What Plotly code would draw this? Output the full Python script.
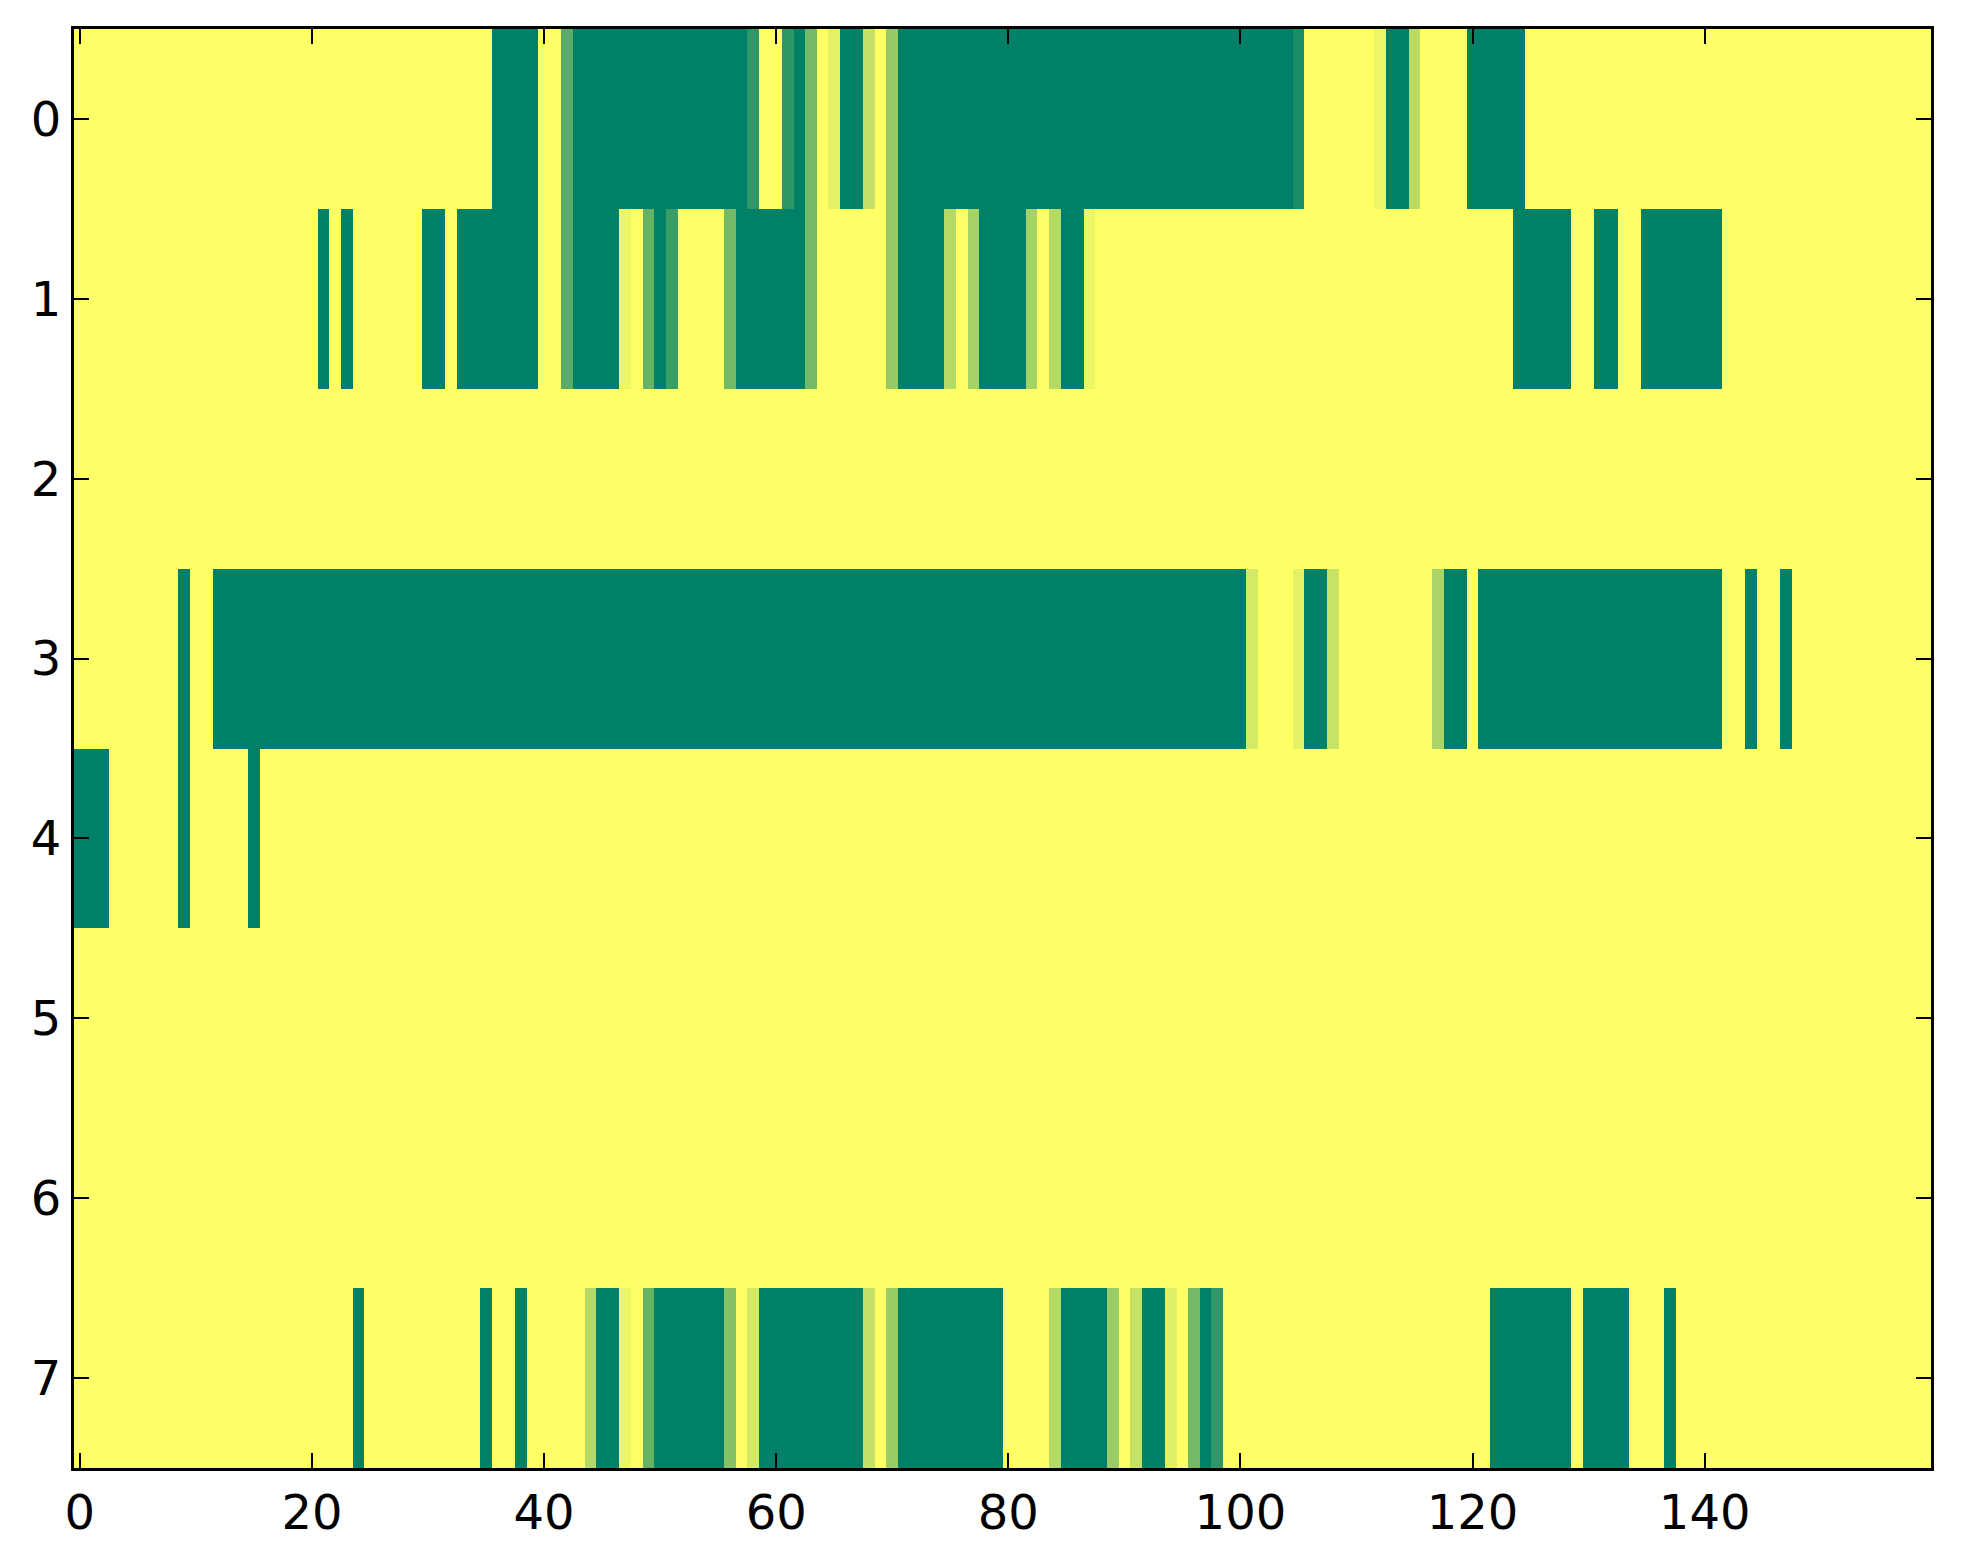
import plotly.graph_objects as go

# one list per image row, 160 columns each (0 = yellow, 1 = green)
row0 = [
    0, 0, 0, 0, 0, 0, 0, 0, 0, 0, 0, 0, 0, 0, 0, 0, 0, 0, 0, 0,
    0, 0, 0, 0, 0, 0, 0, 0, 0, 0, 0, 0, 0, 0, 0, 0, 1, 1, 1, 1,
    0, 0, 0.65, 1, 1, 1, 1, 1, 1, 1, 1, 1, 1, 1, 1, 1, 1, 1, 0.82, 0,
    0, 0.82, 1, 0.55, 0, 0.1, 1, 1, 0.23, 0, 0.42, 1, 1, 1, 1, 1, 1, 1, 1, 1,
    1, 1, 1, 1, 1, 1, 1, 1, 1, 1, 1, 1, 1, 1, 1, 1, 1, 1, 1, 1,
    1, 1, 1, 1, 1, 0.9, 0, 0, 0, 0, 0, 0, 0.07, 1, 1, 0.28, 0, 0, 0, 0,
    1, 1, 1, 1, 1, 0, 0, 0, 0, 0, 0, 0, 0, 0, 0, 0, 0, 0, 0, 0,
    0, 0, 0, 0, 0, 0, 0, 0, 0, 0, 0, 0, 0, 0, 0, 0, 0, 0, 0, 0,
]
row1 = [
    0, 0, 0, 0, 0, 0, 0, 0, 0, 0, 0, 0, 0, 0, 0, 0, 0, 0, 0, 0,
    0, 1, 0, 1, 0, 0, 0, 0, 0, 0, 1, 1, 0, 1, 1, 1, 1, 1, 1, 1,
    0, 0, 0.65, 1, 1, 1, 1, 0.07, 0, 0.6, 1, 0.77, 0, 0, 0, 0, 0.55, 1, 1, 1,
    1, 1, 1, 0.55, 0, 0, 0, 0, 0, 0, 0.42, 1, 1, 1, 1, 0.3, 0, 0.35, 1, 1,
    1, 1, 0.35, 0, 0.3, 1, 1, 0.07, 0, 0, 0, 0, 0, 0, 0, 0, 0, 0, 0, 0,
    0, 0, 0, 0, 0, 0, 0, 0, 0, 0, 0, 0, 0, 0, 0, 0, 0, 0, 0, 0,
    0, 0, 0, 0, 1, 1, 1, 1, 1, 0, 0, 1, 1, 0, 0, 1, 1, 1, 1, 1,
    1, 1, 0, 0, 0, 0, 0, 0, 0, 0, 0, 0, 0, 0, 0, 0, 0, 0, 0, 0,
]
row2 = [
    0, 0, 0, 0, 0, 0, 0, 0, 0, 0, 0, 0, 0, 0, 0, 0, 0, 0, 0, 0,
    0, 0, 0, 0, 0, 0, 0, 0, 0, 0, 0, 0, 0, 0, 0, 0, 0, 0, 0, 0,
    0, 0, 0, 0, 0, 0, 0, 0, 0, 0, 0, 0, 0, 0, 0, 0, 0, 0, 0, 0,
    0, 0, 0, 0, 0, 0, 0, 0, 0, 0, 0, 0, 0, 0, 0, 0, 0, 0, 0, 0,
    0, 0, 0, 0, 0, 0, 0, 0, 0, 0, 0, 0, 0, 0, 0, 0, 0, 0, 0, 0,
    0, 0, 0, 0, 0, 0, 0, 0, 0, 0, 0, 0, 0, 0, 0, 0, 0, 0, 0, 0,
    0, 0, 0, 0, 0, 0, 0, 0, 0, 0, 0, 0, 0, 0, 0, 0, 0, 0, 0, 0,
    0, 0, 0, 0, 0, 0, 0, 0, 0, 0, 0, 0, 0, 0, 0, 0, 0, 0, 0, 0,
]
row3 = [
    0, 0, 0, 0, 0, 0, 0, 0, 0, 1, 0, 0, 1, 1, 1, 1, 1, 1, 1, 1,
    1, 1, 1, 1, 1, 1, 1, 1, 1, 1, 1, 1, 1, 1, 1, 1, 1, 1, 1, 1,
    1, 1, 1, 1, 1, 1, 1, 1, 1, 1, 1, 1, 1, 1, 1, 1, 1, 1, 1, 1,
    1, 1, 1, 1, 1, 1, 1, 1, 1, 1, 1, 1, 1, 1, 1, 1, 1, 1, 1, 1,
    1, 1, 1, 1, 1, 1, 1, 1, 1, 1, 1, 1, 1, 1, 1, 1, 1, 1, 1, 1,
    1, 0.17, 0, 0, 0, 0.1, 1, 1, 0.22, 0, 0, 0, 0, 0, 0, 0, 0, 0.33, 1, 1,
    0, 1, 1, 1, 1, 1, 1, 1, 1, 1, 1, 1, 1, 1, 1, 1, 1, 1, 1, 1,
    1, 1, 0, 0, 1, 0, 0, 1, 0, 0, 0, 0, 0, 0, 0, 0, 0, 0, 0, 0,
]
row4 = [
    1, 1, 1, 0, 0, 0, 0, 0, 0, 1, 0, 0, 0, 0, 0, 1, 0, 0, 0, 0,
    0, 0, 0, 0, 0, 0, 0, 0, 0, 0, 0, 0, 0, 0, 0, 0, 0, 0, 0, 0,
    0, 0, 0, 0, 0, 0, 0, 0, 0, 0, 0, 0, 0, 0, 0, 0, 0, 0, 0, 0,
    0, 0, 0, 0, 0, 0, 0, 0, 0, 0, 0, 0, 0, 0, 0, 0, 0, 0, 0, 0,
    0, 0, 0, 0, 0, 0, 0, 0, 0, 0, 0, 0, 0, 0, 0, 0, 0, 0, 0, 0,
    0, 0, 0, 0, 0, 0, 0, 0, 0, 0, 0, 0, 0, 0, 0, 0, 0, 0, 0, 0,
    0, 0, 0, 0, 0, 0, 0, 0, 0, 0, 0, 0, 0, 0, 0, 0, 0, 0, 0, 0,
    0, 0, 0, 0, 0, 0, 0, 0, 0, 0, 0, 0, 0, 0, 0, 0, 0, 0, 0, 0,
]
row5 = [
    0, 0, 0, 0, 0, 0, 0, 0, 0, 0, 0, 0, 0, 0, 0, 0, 0, 0, 0, 0,
    0, 0, 0, 0, 0, 0, 0, 0, 0, 0, 0, 0, 0, 0, 0, 0, 0, 0, 0, 0,
    0, 0, 0, 0, 0, 0, 0, 0, 0, 0, 0, 0, 0, 0, 0, 0, 0, 0, 0, 0,
    0, 0, 0, 0, 0, 0, 0, 0, 0, 0, 0, 0, 0, 0, 0, 0, 0, 0, 0, 0,
    0, 0, 0, 0, 0, 0, 0, 0, 0, 0, 0, 0, 0, 0, 0, 0, 0, 0, 0, 0,
    0, 0, 0, 0, 0, 0, 0, 0, 0, 0, 0, 0, 0, 0, 0, 0, 0, 0, 0, 0,
    0, 0, 0, 0, 0, 0, 0, 0, 0, 0, 0, 0, 0, 0, 0, 0, 0, 0, 0, 0,
    0, 0, 0, 0, 0, 0, 0, 0, 0, 0, 0, 0, 0, 0, 0, 0, 0, 0, 0, 0,
]
row6 = [
    0, 0, 0, 0, 0, 0, 0, 0, 0, 0, 0, 0, 0, 0, 0, 0, 0, 0, 0, 0,
    0, 0, 0, 0, 0, 0, 0, 0, 0, 0, 0, 0, 0, 0, 0, 0, 0, 0, 0, 0,
    0, 0, 0, 0, 0, 0, 0, 0, 0, 0, 0, 0, 0, 0, 0, 0, 0, 0, 0, 0,
    0, 0, 0, 0, 0, 0, 0, 0, 0, 0, 0, 0, 0, 0, 0, 0, 0, 0, 0, 0,
    0, 0, 0, 0, 0, 0, 0, 0, 0, 0, 0, 0, 0, 0, 0, 0, 0, 0, 0, 0,
    0, 0, 0, 0, 0, 0, 0, 0, 0, 0, 0, 0, 0, 0, 0, 0, 0, 0, 0, 0,
    0, 0, 0, 0, 0, 0, 0, 0, 0, 0, 0, 0, 0, 0, 0, 0, 0, 0, 0, 0,
    0, 0, 0, 0, 0, 0, 0, 0, 0, 0, 0, 0, 0, 0, 0, 0, 0, 0, 0, 0,
]
row7 = [
    0, 0, 0, 0, 0, 0, 0, 0, 0, 0, 0, 0, 0, 0, 0, 0, 0, 0, 0, 0,
    0, 0, 0, 0, 1, 0, 0, 0, 0, 0, 0, 0, 0, 0, 0, 1, 0, 0, 1, 0,
    0, 0, 0, 0, 0.3, 1, 1, 0.07, 0, 0.6, 1, 1, 1, 1, 1, 1, 0.48, 0, 0.17, 1,
    1, 1, 1, 1, 1, 1, 1, 1, 0.23, 0, 0.4, 1, 1, 1, 1, 1, 1, 1, 1, 1,
    0, 0, 0, 0, 0.3, 1, 1, 1, 1, 0.4, 0, 0.23, 1, 1, 0.12, 0, 0.55, 1, 0.82, 0,
    0, 0, 0, 0, 0, 0, 0, 0, 0, 0, 0, 0, 0, 0, 0, 0, 0, 0, 0, 0,
    0, 0, 1, 1, 1, 1, 1, 1, 1, 0, 1, 1, 1, 1, 0, 0, 0, 1, 0, 0,
    0, 0, 0, 0, 0, 0, 0, 0, 0, 0, 0, 0, 0, 0, 0, 0, 0, 0, 0, 0,
]

columns = list(range(160))
rows = list(range(8))
x_ticks = [0, 20, 40, 60, 80, 100, 120, 140]

z = [row0, row1, row2, row3, row4, row5, row6, row7]

# matplotlib's summer_r is a straight line in RGB, so two stops are enough
summer_r = [[0.0, '#ffff66'], [1.0, '#008066']]

fig = go.Figure(go.Heatmap(
    z=z, x=columns, y=rows,
    colorscale=summer_r, zmin=0, zmax=1,
    showscale=False,
))

axis_style = dict(
    showline=True, linecolor='black', linewidth=3, mirror='ticks',
    ticks='inside', ticklen=15, tickwidth=2, tickcolor='black',
    showgrid=False, zeroline=False,
)

# the page body adds an 8px margin, so the figure is 16px smaller than the window
fig.update_layout(
    width=1947, height=1548,
    margin=dict(l=66, r=24, t=21, b=88),
    paper_bgcolor='white', plot_bgcolor='white',
    font=dict(family='DejaVu Sans', size=48, color='black'),
    xaxis=dict(range=[-0.5, 159.5], tickvals=x_ticks, **axis_style),
    yaxis=dict(range=[7.5, -0.5], tickvals=rows, **axis_style),
)

fig.write_html("out.html")
